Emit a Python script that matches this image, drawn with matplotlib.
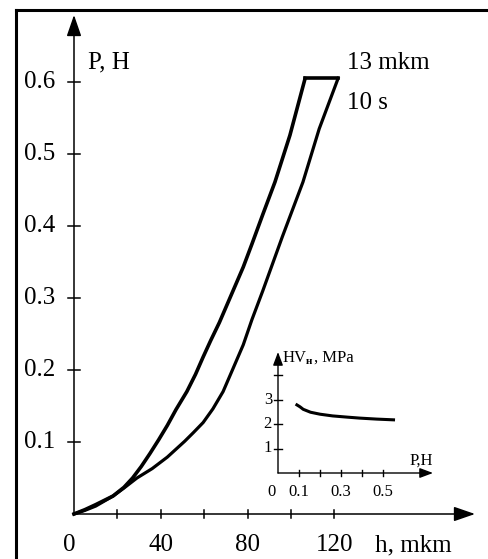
# Load / unload indentation curve P(h) with an inset HV(P)

import matplotlib
matplotlib.use("Agg")
import matplotlib.pyplot as plt

plt.rcParams["font.family"] = ["Liberation Serif", "DejaVu Serif"]


# 1) Data

# loading branch (upper curve), h in mkm, P in H
h_load = [0, 5, 10, 18, 23, 27, 31, 35, 39, 43, 47, 52, 56, 59.5, 63, 67,
          73, 78, 82, 87, 92.6, 99.5, 106.5]
p_load = [0, 0.006, 0.013, 0.025, 0.037, 0.05, 0.066, 0.084, 0.103, 0.123,
          0.145, 0.17, 0.194, 0.218, 0.241, 0.266, 0.308, 0.343, 0.375,
          0.416, 0.461, 0.526, 0.605]

# unloading branch (lower curve), starts after the hold
h_unl = [121.7, 113, 105.5, 96, 87, 82, 78, 73, 68.7, 64, 59.5, 55, 51, 47,
         43, 36, 29, 23, 18, 10, 5, 0]
p_unl = [0.605, 0.535, 0.461, 0.385, 0.31, 0.27, 0.235, 0.2, 0.17, 0.146,
         0.127, 0.113, 0.101, 0.09, 0.079, 0.063, 0.05, 0.036, 0.025,
         0.011, 0.005, 0]

x_ticks = [20, 40, 60, 80, 100, 120]
x_tick_labels = {0: "0", 40: "40", 80: "80", 120: "120"}
y_ticks = [0.1, 0.2, 0.3, 0.4, 0.5, 0.6]

# inset: microhardness vs load
p_hv = [0.09, 0.105, 0.12, 0.155, 0.2, 0.26, 0.33, 0.39, 0.47, 0.55]
hv = [2.78, 2.7, 2.6, 2.48, 2.4, 2.33, 2.28, 2.24, 2.2, 2.17]

in_x_ticks = [0.1, 0.2, 0.3, 0.4, 0.5]
in_x_labels = {0: "0", 0.1: "0.1", 0.3: "0.3", 0.5: "0.5"}
in_y_ticks = [1, 2, 3, 4]
in_y_labels = [1, 2, 3]


# 2) Figure, both axes span the full figure (drawn like a hand sketch)

W, H = 488, 559
fig = plt.figure(figsize=(W / 100, H / 100), dpi=100)

ax = fig.add_axes([0, 0, 1, 1])
x0, sx = 74, 2.17      # pixel of h=0, px per mkm
y0, sy = 514, 720.0    # pixel of P=0, px per H
ax.set_xlim((0 - x0) / sx, (W - x0) / sx)
ax.set_ylim((y0 - H) / sy, y0 / sy)
ax.axis("off")

ins = fig.add_axes([0, 0, 1, 1])
ix0, isx = 278, 210.0   # px per H (inset)
iy0, isy = 473, 24.5    # px per MPa
ins.set_xlim((0 - ix0) / isx, (W - ix0) / isx)
ins.set_ylim((iy0 - H) / isy, iy0 / isy)
ins.axis("off")
ins.patch.set_alpha(0)

# frame lines (left and top only)
fig.add_artist(plt.Line2D([16 / W, 16 / W], [0, 1 - 10 / H], color="black", lw=2.2))
fig.add_artist(plt.Line2D([16 / W, 1], [1 - 10 / H, 1 - 10 / H], color="black", lw=2.2))


# 3) Main axes with arrows and ticks

arrow = dict(arrowstyle="-|>,head_length=1.3,head_width=0.45", color="black",
             lw=1.1, shrinkA=0, shrinkB=0)
ax.annotate("", xy=((475 - x0) / sx, 0), xytext=(0, 0), arrowprops=arrow)
ax.annotate("", xy=(0, (y0 - 15) / sy), xytext=(0, 0), arrowprops=arrow)

tx = 4 / sy
for t in x_ticks:
    ax.plot([t, t], [-tx, tx], color="black", lw=1.1)
ty = 6 / sx
for t in y_ticks:
    ax.plot([-ty, ty], [t, t], color="black", lw=1.1)
    ax.text(-19 / sx, t, str(t), ha="right", va="center", fontsize=18)

for t, lab in x_tick_labels.items():
    ax.text(t - (5 / sx if t == 0 else 0), -31 / sy, lab, ha="center",
            va="center", fontsize=18)

ax.text(14 / sx, (y0 - 62) / sy, "P, H", ha="left", va="center", fontsize=18)
ax.text((375 - x0) / sx, -31 / sy, "h, mkm", ha="left", va="center", fontsize=18)
ax.text((347 - x0) / sx, (y0 - 63) / sy, "13 mkm", ha="left", va="center", fontsize=18)
ax.text((347 - x0) / sx, (y0 - 103) / sy, "10 s", ha="left", va="center", fontsize=18)

# curves: loading, hold at top, unloading
ax.plot(h_load, p_load, color="black", lw=2.6, solid_joinstyle="round")
ax.plot([h_load[-1], h_unl[0]], [p_load[-1], p_unl[0]], color="black", lw=2.6)
ax.plot(h_unl, p_unl, color="black", lw=2.3, solid_joinstyle="round")


# 4) Inset HV(P)

small = dict(arrowstyle="-|>,head_length=0.8,head_width=0.3", color="black",
             lw=1.0, shrinkA=0, shrinkB=0)
ins.annotate("", xy=((433 - ix0) / isx, 0), xytext=(0, 0), arrowprops=small)
ins.annotate("", xy=(0, (iy0 - 352) / isy), xytext=(0, 0), arrowprops=small)

for t in in_x_ticks:
    ins.plot([t, t], [-3 / isy, 3 / isy], color="black", lw=1.0)
for t in in_y_ticks:
    ins.plot([-4 / isx, 4 / isx], [t, t], color="black", lw=1.0)
for t in in_y_labels:
    ins.text(-6 / isx, t, str(t), ha="right", va="center", fontsize=12)
for t, lab in in_x_labels.items():
    ins.text(t - (7 / isx if t == 0 else 0), -19 / isy, lab, ha="center",
             va="center", fontsize=12)

ins.text(5 / isx, (iy0 - 358) / isy, "HV", ha="left", va="center", fontsize=12)
ins.text(28 / isx, (iy0 - 362) / isy, "н", ha="left", va="center", fontsize=8,
         fontweight="bold")
ins.text(36 / isx, (iy0 - 358) / isy, ", MPa", ha="left", va="center", fontsize=12)
ins.text((410 - ix0) / isx, (iy0 - 461) / isy, "P,H", ha="left", va="center",
         fontsize=12)

ins.plot(p_hv, hv, color="black", lw=2.2)

fig.savefig("out.png", dpi=100)
